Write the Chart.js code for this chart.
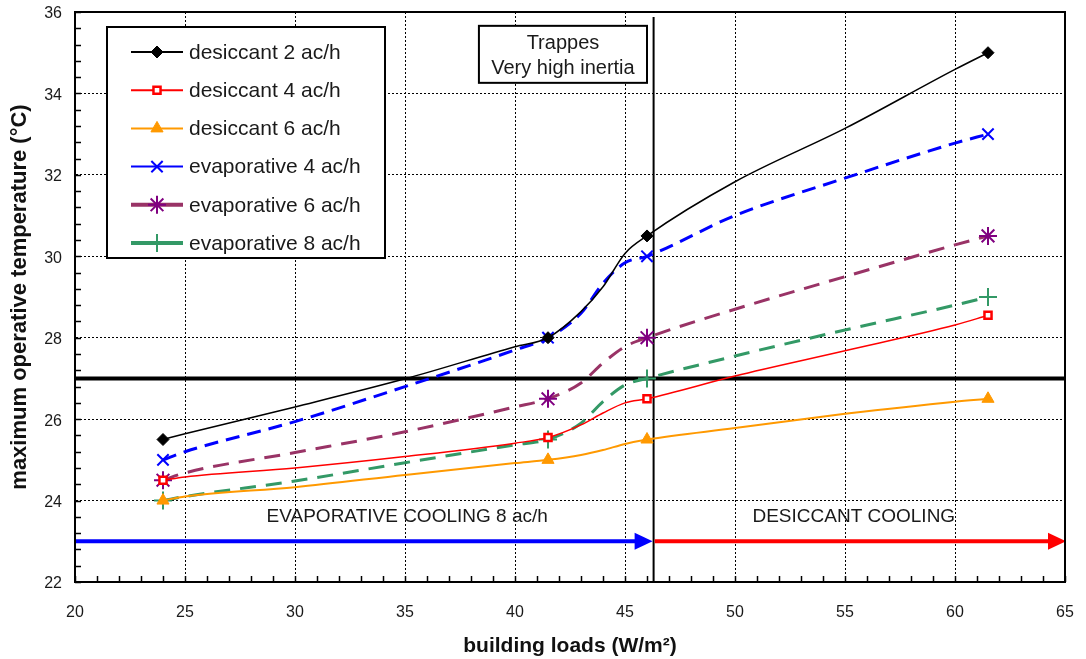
<!DOCTYPE html>
<html>
<head>
<meta charset="utf-8">
<script src="https://cdn.jsdelivr.net/npm/chart.js@4.4.1/dist/chart.umd.min.js"></script>
<style>
  html, body { margin: 0; padding: 0; background: #fff; }
  #chart { display: block; }
</style>
</head>
<body>
<canvas id="chart" width="1086" height="659"></canvas>
<script>
// building loads (W/m2) - markers only on the 4 simulated points
const loads = [24, 25, 30, 35, 40, 41.5, 43, 44, 45, 46, 50, 55, 60, 61.5];
const markerIdx = [0, 5, 9, 13];

// maximum operative temperature (°C)
const desiccant2 = [25.5, 25.64, 26.3, 26.99, 27.78, 28, 28.64, 29.25, 30.07, 30.5, 31.83, 33.14, 34.59, 35];
const desiccant4 = [24.5, 24.58, 24.8, 25.08, 25.41, 25.55, 25.86, 26.15, 26.4, 26.5, 27.06, 27.68, 28.31, 28.55];
const desiccant6 = [24, 24.1, 24.33, 24.63, 24.92, 25, 25.12, 25.24, 25.39, 25.5, 25.78, 26.13, 26.43, 26.5];
const evaporative4 = [25, 25.2, 25.94, 26.8, 27.7, 28, 28.6, 29.34, 29.84, 30, 31.0, 31.92, 32.78, 33];
const evaporative6 = [24.5, 24.68, 25.18, 25.69, 26.3, 26.5, 26.89, 27.38, 27.78, 28, 28.7, 29.5, 30.28, 30.5];
const evaporative8 = [24, 24.1, 24.48, 24.93, 25.37, 25.5, 25.9, 26.43, 26.84, 27, 27.55, 28.19, 28.8, 29];

const xTicks = [20, 25, 30, 35, 40, 45, 50, 55, 60, 65];
const yTicks = [22, 24, 26, 28, 30, 32, 34, 36];

const comfortLimit = 27;      // thick horizontal line
const switchLoad = 46.3;      // evaporative / desiccant boundary
const arrowLevel = 23;

const FONT = "'Liberation Sans', Arial, sans-serif";

function pts(values) {
    return loads.map((x, i) => ({ x: x, y: values[i] }));
}
function radii(r) {
    return loads.map((_, i) => markerIdx.includes(i) ? r : 0);
}

const series = [
    { label: 'desiccant 2 ac/h', data: desiccant2, color: '#000000', mark: '#000000', width: 1.5, dash: [], style: 'rectRot', r: 6, fill: '#000000', bw: 1, legendWidth: 2 },
    { label: 'desiccant 4 ac/h', data: desiccant4, color: '#ff0000', mark: '#ff0000', width: 1.5, dash: [], style: 'rect', r: 5, fill: '#ffffff', bw: 2.5, legendWidth: 2 },
    { label: 'desiccant 6 ac/h', data: desiccant6, color: '#ff9900', mark: '#ff9900', width: 2, dash: [], style: 'triangle', r: 7, fill: '#ff9900', bw: 1, legendWidth: 2 },
    { label: 'evaporative 4 ac/h', data: evaporative4, color: '#0000ff', mark: '#0000ff', width: 3, dash: [14, 8], style: 'crossRot', r: 8, fill: '#0000ff', bw: 2, legendWidth: 2 },
    { label: 'evaporative 6 ac/h', data: evaporative6, color: '#993366', mark: '#800080', width: 3, dash: [16, 10], style: 'star', r: 9, fill: '#800080', bw: 2, legendWidth: 4 },
    { label: 'evaporative 8 ac/h', data: evaporative8, color: '#339966', mark: '#339966', width: 3, dash: [16, 10], style: 'cross', r: 9, fill: '#339966', bw: 2, legendWidth: 4 }
];

const datasets = series.map(s => ({
    label: s.label,
    data: pts(s.data),
    borderColor: s.color,
    borderWidth: s.width,
    borderDash: s.dash,
    cubicInterpolationMode: 'monotone',
    pointStyle: s.style,
    pointRadius: radii(s.r),
    pointHoverRadius: radii(s.r),
    pointBackgroundColor: s.fill,
    pointBorderColor: s.mark,
    pointBorderWidth: s.bw,
    fill: false
}));

// annotations, minor ticks, border, legend
const overlay = {
    id: 'overlay',
    beforeDatasetsDraw(chart) {
        const { ctx, chartArea: a, scales: { x, y } } = chart;
        ctx.save();
        // comfort limit 27 °C
        ctx.strokeStyle = '#000';
        ctx.lineWidth = 4;
        ctx.beginPath();
        ctx.moveTo(a.left, y.getPixelForValue(comfortLimit));
        ctx.lineTo(a.right, y.getPixelForValue(comfortLimit));
        ctx.stroke();
        // boundary line
        ctx.lineWidth = 2;
        ctx.beginPath();
        ctx.moveTo(x.getPixelForValue(switchLoad), y.getPixelForValue(35.88));
        ctx.lineTo(x.getPixelForValue(switchLoad), a.bottom);
        ctx.stroke();
        ctx.restore();
    },
    afterDraw(chart) {
        const { ctx, chartArea: a, scales: { x, y } } = chart;
        ctx.save();

        // arrows
        const ay = y.getPixelForValue(arrowLevel);
        const xs = x.getPixelForValue(switchLoad);
        drawArrow(ctx, a.left, xs - 1, ay, '#0000ff');
        drawArrow(ctx, xs + 1, a.right + 1, ay, '#ff0000');

        // minor ticks
        ctx.strokeStyle = '#000';
        ctx.lineWidth = 1.5;
        ctx.beginPath();
        for (let v = 20; v <= 65; v += 1) {
            const px = Math.round(x.getPixelForValue(v)) + 0.5;
            ctx.moveTo(px, a.bottom);
            ctx.lineTo(px, a.bottom - 6);
        }
        for (let i = 0; i <= 35; i++) {
            const py = Math.round(y.getPixelForValue(22 + i * 0.4)) + 0.5;
            ctx.moveTo(a.left, py);
            ctx.lineTo(a.left + 6, py);
        }
        ctx.stroke();

        // plot frame
        ctx.lineWidth = 2;
        ctx.strokeRect(a.left, a.top, a.right - a.left, a.bottom - a.top);

        // region labels
        ctx.fillStyle = '#1a1a1a';
        ctx.font = '19px ' + FONT;
        ctx.textAlign = 'center';
        ctx.textBaseline = 'middle';
        ctx.fillText('EVAPORATIVE COOLING 8 ac/h', x.getPixelForValue(35.1), y.getPixelForValue(23.6));
        ctx.fillText('DESICCANT COOLING', x.getPixelForValue(55.4), y.getPixelForValue(23.6));

        // site box
        const bx1 = x.getPixelForValue(38.36), bx2 = x.getPixelForValue(46.0);
        const by1 = y.getPixelForValue(35.66), by2 = y.getPixelForValue(34.26);
        ctx.fillStyle = '#fff';
        ctx.fillRect(bx1, by1, bx2 - bx1, by2 - by1);
        ctx.strokeStyle = '#000';
        ctx.lineWidth = 2;
        ctx.strokeRect(bx1, by1, bx2 - bx1, by2 - by1);
        ctx.fillStyle = '#1a1a1a';
        ctx.font = '20px ' + FONT;
        ctx.fillText('Trappes', (bx1 + bx2) / 2, by1 + 18);
        ctx.fillText('Very high inertia', (bx1 + bx2) / 2, by1 + 43);

        // legend
        const lx = 107, ly = 27, lw = 278, lh = 231;
        ctx.fillStyle = '#fff';
        ctx.fillRect(lx, ly, lw, lh);
        ctx.strokeStyle = '#000';
        ctx.lineWidth = 2;
        ctx.strokeRect(lx, ly, lw, lh);
        series.forEach((s, i) => {
            const ry = 52 + i * 38.2;
            ctx.strokeStyle = s.color;
            ctx.lineWidth = s.legendWidth;
            ctx.setLineDash([]);
            ctx.beginPath();
            ctx.moveTo(131, ry);
            ctx.lineTo(183, ry);
            ctx.stroke();
            ctx.fillStyle = s.fill;
            ctx.strokeStyle = s.mark;
            ctx.lineWidth = s.bw;
            Chart.helpers.drawPoint(ctx, { pointStyle: s.style, radius: s.r, rotation: 0, borderWidth: s.bw }, 157, ry);
            ctx.fillStyle = '#1a1a1a';
            ctx.font = '21px ' + FONT;
            ctx.textAlign = 'left';
            ctx.fillText(s.label, 189, ry + 1);
        });
        ctx.restore();
    }
};

function drawArrow(ctx, x1, x2, yy, color) {
    ctx.strokeStyle = color;
    ctx.fillStyle = color;
    ctx.lineWidth = 4;
    ctx.beginPath();
    ctx.moveTo(x1, yy);
    ctx.lineTo(x2 - 14, yy);
    ctx.stroke();
    ctx.beginPath();
    ctx.moveTo(x2, yy);
    ctx.lineTo(x2 - 18, yy - 8.5);
    ctx.lineTo(x2 - 18, yy + 8.5);
    ctx.closePath();
    ctx.fill();
}

new Chart(document.getElementById('chart').getContext('2d'), {
    type: 'line',
    data: { datasets: datasets },
    options: {
        responsive: false,
        animation: false,
        events: [],
        layout: { padding: { top: 12, right: 21, left: 0, bottom: 0 } },
        plugins: {
            legend: { display: false },
            tooltip: { enabled: false }
        },
        scales: {
            x: {
                type: 'linear',
                min: 20,
                max: 65,
                afterBuildTicks: (scale) => { scale.ticks = xTicks.map(v => ({ value: v })); },
                afterFit: (scale) => { scale.height = 77; scale.paddingLeft = 0; scale.paddingRight = 0; },
                ticks: { color: '#1a1a1a', font: { family: FONT, size: 16 }, padding: 21, maxRotation: 0 },
                grid: { color: '#000', lineWidth: 1, drawTicks: false },
                border: { display: true, color: '#000', width: 2, dash: [2, 2] },
                title: { display: true, text: 'building loads (W/m²)', color: '#111', font: { family: FONT, size: 21, weight: 'bold' }, padding: 0 }
            },
            y: {
                min: 22,
                max: 36,
                afterBuildTicks: (scale) => { scale.ticks = yTicks.map(v => ({ value: v })); },
                afterFit: (scale) => { scale.width = 75; scale.paddingTop = 0; scale.paddingBottom = 0; },
                ticks: { color: '#1a1a1a', font: { family: FONT, size: 16 }, padding: 13, labelOffset: 2 },
                grid: { color: '#000', lineWidth: 1, drawTicks: false },
                border: { display: true, color: '#000', width: 2, dash: [2, 2] },
                title: { display: true, text: 'maximum operative temperature (°C)', color: '#111', font: { family: FONT, size: 22, weight: 'bold' }, padding: 7 }
            }
        }
    },
    plugins: [overlay]
});
</script>
</body>
</html>
